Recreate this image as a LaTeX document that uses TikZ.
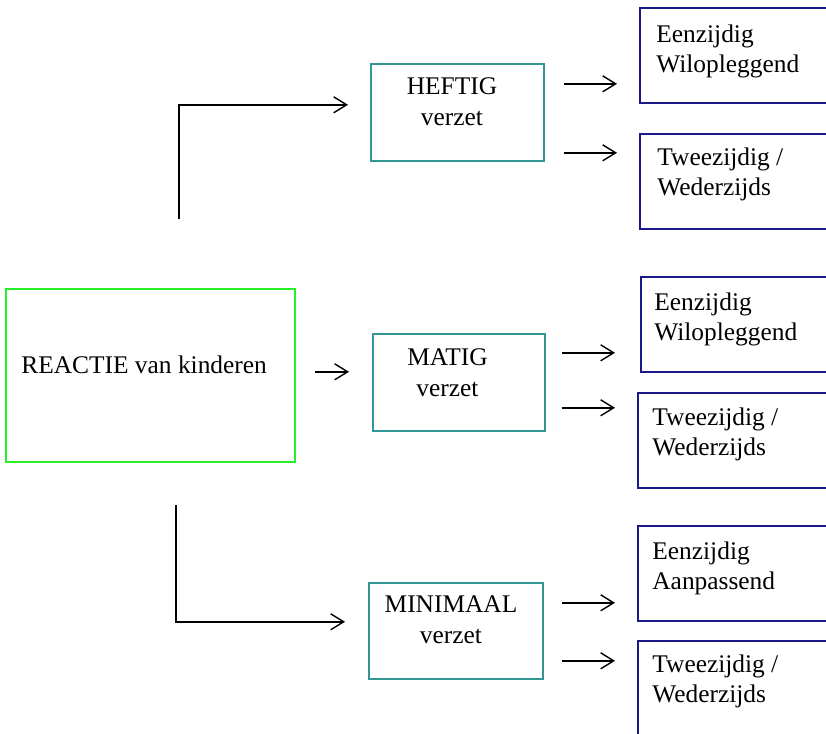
\documentclass[tikz,border=0pt]{standalone}
\usepackage{fontspec}
\setmainfont{Liberation Serif}
\usetikzlibrary{arrows.meta}
\definecolor{cgreen}{RGB}{40,240,40}
\definecolor{cteal}{RGB}{50,150,150}
\definecolor{cnavy}{RGB}{25,25,135}
\begin{document}
\begin{tikzpicture}[x=0.5pt,y=-0.5pt,
  greenbox/.style={draw=cgreen, line width=0.8pt, anchor=north west, inner sep=0pt},
  tealbox/.style={draw=cteal, line width=0.8pt, anchor=north west, inner sep=0pt, minimum height=48.5pt},
  navybox/.style={draw=cnavy, line width=0.8pt, anchor=north west, inner sep=0pt, minimum width=110pt, minimum height=47.5pt},
  arr/.style={-{Straight Barb[length=6.5pt,width=8pt]}, line width=0.7pt},
  txt/.style={inner sep=0pt, font=\fontsize{12.7pt}{14.75pt}\selectfont, align=left, anchor=north west},
  ctxt/.style={inner sep=0pt, font=\fontsize{12.7pt}{15.5pt}\selectfont, align=center, anchor=north}]
\useasboundingbox (0,0) rectangle (826,734);
\clip (0,0) rectangle (826,734);

% boxes
\node[greenbox, minimum width=144.5pt, minimum height=86.5pt] (reactie) at (5,288) {};
\node[tealbox, minimum width=86.5pt] (heftig) at (370,63) {};
\node[tealbox, minimum width=86pt] (matig) at (372,333) {};
\node[tealbox, minimum width=87pt, minimum height=48pt] (minimaal) at (368,582) {};
\node[navybox] (r1) at (639,7) {};
\node[navybox] (r2) at (639,133) {};
\node[navybox] (r3) at (640,276) {};
\node[navybox] (r4) at (637,392) {};
\node[navybox] (r5) at (637,525) {};
\node[navybox] (r6) at (637,640) {};

% texts
\node[inner sep=0pt, font=\fontsize{12.7pt}{14.75pt}\selectfont, anchor=base west] (treactie) at (21,373) {REACTIE van kinderen};
\node[ctxt] (theftig) at (452,77) {HEFTIG\\verzet};
\node[ctxt] (tmatig) at (447.5,348) {MATIG\\verzet};
\node[ctxt] (tminimaal) at (451,595) {MINIMAAL\\verzet};
\node[txt] (tr1) at (656,24.5) {Eenzijdig\\Wilopleggend};
\node[txt] (tr2) at (657,147.5) {Tweezijdig /\\Wederzijds};
\node[txt] (tr3) at (654,292.5) {Eenzijdig\\Wilopleggend};
\node[txt] (tr4) at (652,407.5) {Tweezijdig /\\Wederzijds};
\node[txt] (tr5) at (652,541.5) {Eenzijdig\\Aanpassend};
\node[txt] (tr6) at (652,654.5) {Tweezijdig /\\Wederzijds};

% fork connectors
\coordinate (topfork) at (179,219);
\coordinate (botfork) at (176,505);
\draw[arr] (topfork) |- ([xshift=-11pt,yshift=3.75pt]heftig.west);
\draw[arr] (botfork) |- ([xshift=-11.5pt,yshift=4.5pt]minimaal.west);
\draw[arr] ([xshift=9.5pt,yshift=1.75pt]reactie.east) -- ([xshift=-11.5pt,yshift=1.75pt]reactie.east -| matig.west);

% right arrows
\draw[arr, shorten >=11pt] ([xshift=9.5pt,yshift=14.25pt]heftig.east) coordinate (h1) -- (h1 -| r1.west);
\draw[arr, shorten >=11pt] ([xshift=9.5pt,yshift=-20.25pt]heftig.east) coordinate (h2) -- (h2 -| r2.west);
\draw[arr, shorten >=12.5pt] ([xshift=8pt,yshift=14.75pt]matig.east) coordinate (m1) -- (m1 -| r3.west);
\draw[arr, shorten >=11pt] ([xshift=8pt,yshift=-12.75pt]matig.east) coordinate (m2) -- (m2 -| r4.west);
\draw[arr, shorten >=11pt] ([xshift=9pt,yshift=14pt]minimaal.east) coordinate (n1) -- (n1 -| r5.west);
\draw[arr, shorten >=11pt] ([xshift=9pt,yshift=-15pt]minimaal.east) coordinate (n2) -- (n2 -| r6.west);
\end{tikzpicture}
\end{document}
